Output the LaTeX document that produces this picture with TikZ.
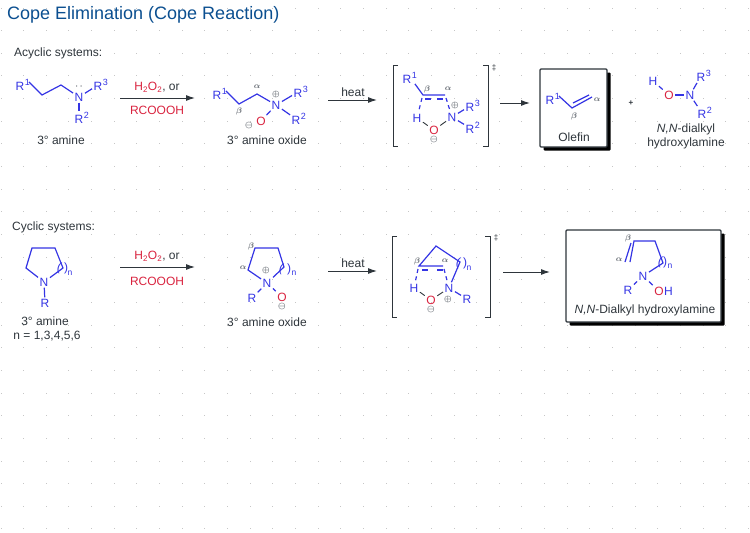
\documentclass[tikz,border=0pt]{standalone}
\usepackage{fontspec}
\setmainfont{Liberation Sans}
\usetikzlibrary{arrows.meta,positioning}
\definecolor{tituloazul}{HTML}{0B4F90}
\definecolor{azulatomo}{HTML}{3434E4}
\definecolor{rojoatomo}{HTML}{D9233F}
\definecolor{grisletra}{HTML}{2E353B}
\definecolor{grismarca}{HTML}{5E646C}
\newcommand{\Rsup}[1]{R\rlap{\kern0.6pt\raisebox{4.4pt}{\fontsize{9}{9}\selectfont #1}}}
\tikzset{
  texto/.style={text=grisletra,font=\fontsize{12}{14}\selectfont,inner sep=0pt},
  reactivo/.style={text=rojoatomo,font=\fontsize{12}{14}\selectfont,inner sep=0pt},
  atomo/.style={text=azulatomo,font=\fontsize{12}{12}\selectfont,inner sep=1.4pt},
  oxigeno/.style={text=rojoatomo,font=\fontsize{12}{12}\selectfont,inner sep=1.4pt},
  indice/.style={text=azulatomo,font=\fontsize{8.5}{8.5}\selectfont,inner sep=0pt},
  griega/.style={text=grismarca,font=\fontsize{8.5}{8.5}\selectfont\boldmath,inner sep=0pt},
  carga/.style={text=grismarca,font=\fontsize{8.5}{8.5}\selectfont\boldmath,inner sep=0pt},
  enlace/.style={azulatomo,line width=1.2pt},
  roto/.style={azulatomo,line width=1.2pt,dash pattern=on 6pt off 6pt},
  rotocorto/.style={azulatomo,line width=1.2pt,dash pattern=on 4pt off 3.5pt},
  puente/.style={grisletra,line width=0.9pt},
  flecha/.style={grisletra,line width=1pt,-{Latex[length=9pt,width=6pt]}},
  corchete/.style={grisletra,line width=0.9pt},
  caja/.style={draw=grisletra,line width=1.1pt,fill=white,rounded corners=1pt},
  sombra/.style={fill=black,rounded corners=1pt},
  punto/.style={fill=gray!45}
}
\begin{document}
\begin{tikzpicture}[x=1pt,y=-1pt]
  \useasboundingbox (0,0) rectangle (750,533);
  %%% PUNTOS
  \foreach \i in {0,...,33}
    \foreach \j in {0,...,23}
      \fill[punto] ({0.5+22.65*\i},{7.5+22.65*\j}) rectangle +(1,1);
  %%% TITULOS
  \node[anchor=west,inner sep=0pt,text=tituloazul,font=\fontsize{18}{20}\selectfont] at (7,15) (titulo) {Cope Elimination (Cope Reaction)};
  \node[texto,anchor=west] at (14,53) (aciclico) {Acyclic systems:};
  \node[texto,anchor=west] at (12,227) (ciclico) {Cyclic systems:};

  %%% AMINA ACICLICA
  \node[atomo] at (20,85) (ar1) {\Rsup{1}};
  \coordinate (ac1) at (42,95);
  \coordinate (ac2) at (61,85);
  \node[atomo] at (79,97) (an) {N};
  \node[atomo] at (98,85) (ar3) {\Rsup{3}};
  \node[atomo] at (79,118) (ar2) {\Rsup{2}};
  \node[griega] at (79,87) (apar) {$\cdot\,\cdot$};
  \draw[enlace] ([xshift=3pt,yshift=3pt]ar1.east) -- (ac1) -- (ac2) -- (an);
  \draw[enlace] (an) -- (ar3);
  \draw[enlace] (an) -- (ar2);
  \node[texto] at (61,140) (aname) {3° amine};

  %%% PRIMERA FLECHA
  \coordinate (f1a) at (120,98);
  \coordinate (f1b) at (195,98);
  \draw[flecha] (f1a) -- (f1b);
  \node[texto] at (157,87) (f1sup) {{\color{rojoatomo}H\textsubscript{2}O\textsubscript{2}}, or};
  \node[reactivo] at (157,110) (f1inf) {RCOOOH};

  %%% OXIDO ACICLICO
  \node[atomo] at (217,94) (br1) {\Rsup{1}};
  \coordinate (bc1) at (239,104);
  \coordinate (bc2) at (257,94);
  \node[atomo] at (276,105) (bn) {N};
  \node[atomo] at (298,92) (br3) {\Rsup{3}};
  \node[atomo] at (296,119) (br2) {\Rsup{2}};
  \node[oxigeno] at (261,121) (bo) {O};
  \draw[enlace] ([xshift=3pt,yshift=3pt]br1.east) -- (bc1) -- (bc2) -- (bn);
  \draw[enlace] (bn) -- (br3);
  \draw[enlace] (bn) -- (br2);
  \draw[enlace] (bn) -- (bo);
  \node[carga] at (276,94) (bmas) {$\oplus$};
  \node[carga] at (249,125) (bmen) {$\ominus$};
  \node[griega] at (257,87) (balfa) {$\alpha$};
  \node[griega] at (239,111) (bbeta) {$\beta$};
  \node[texto] at (267,140) (bname) {3° amine oxide};

  %%% SEGUNDA FLECHA
  \coordinate (f2a) at (328,100);
  \coordinate (f2b) at (377,100);
  \draw[flecha] (f2a) -- (f2b);
  \node[texto] at (353,92) (f2sup) {heat};

  %%% ESTADO DE TRANSICION ACICLICO
  \draw[corchete] (398,65) -- (393,65) -- (393,146) -- (398,146);
  \draw[corchete] (483,65) -- (488,65) -- (488,146) -- (483,146);
  \node[texto,font=\fontsize{8}{8}\selectfont] at (494,68) (cdaga) {‡};
  \node[atomo] at (407,78) (cr1) {\Rsup{1}};
  \coordinate (cb) at (423,95);
  \coordinate (ca) at (445,95);
  \coordinate (cb2) at (425,99);
  \coordinate (ca2) at (445,99);
  \coordinate (cb3) at (422,98);
  \coordinate (ca3) at (446,98);
  \node[atomo] at (417,118) (ch) {H};
  \node[atomo] at (452,117) (cn) {N};
  \node[oxigeno] at (434,130) (co) {O};
  \node[atomo] at (470,106) (cr3) {\Rsup{3}};
  \node[atomo] at (470,128) (cr2) {\Rsup{2}};
  \draw[enlace] ([xshift=2pt,yshift=1pt]cr1.south east) -- (cb) -- (ca);
  \draw[roto] (cb2) -- (ca2);
  \draw[rotocorto] (cb3) -- (ch);
  \draw[rotocorto] (ca3) -- (cn);
  \draw[enlace] (cn) -- (cr3);
  \draw[enlace] (cn) -- (cr2);
  \draw[puente] (ch) -- (co);
  \draw[puente] (co) -- (cn);
  \node[carga] at (434,139.5) (cmen) {$\ominus$};
  \node[carga] at (455,105) (cmas) {$\oplus$};
  \node[griega] at (427,89) (cbeta) {$\beta$};
  \node[griega] at (448,89) (calfa) {$\alpha$};

  %%% TERCERA FLECHA
  \coordinate (f3a) at (500,103);
  \coordinate (f3b) at (530,103);
  \draw[flecha] (f3a) -- (f3b);

  %%% OLEFINA
  \fill[sombra] (543.5,72.5) rectangle (610.5,150.5);
  \draw[caja] (540,69) rectangle (607,147);
  \node[atomo] at (550,99) (dr1) {\Rsup{1}};
  \coordinate (dc1) at (572,108);
  \coordinate (dc2) at (592,97);
  \coordinate (dc3) at (573,103);
  \coordinate (dc4) at (589,95);
  \draw[enlace] ([xshift=3pt,yshift=3pt]dr1.east) -- (dc1) -- (dc2);
  \draw[enlace] (dc3) -- (dc4);
  \node[griega] at (597,100) (dalfa) {$\alpha$};
  \node[griega] at (574,116) (dbeta) {$\beta$};
  \node[texto] at (574,137) (dname) {Olefin};
  \node[texto,font=\bfseries\fontsize{8}{8}\selectfont] at (631,103) (mas) {+};

  %%% HIDROXILAMINA ACICLICA
  \node[atomo] at (653,81) (eh) {H};
  \node[oxigeno] at (669,95) (eo) {O};
  \node[atomo] at (690,95) (en) {N};
  \node[atomo] at (701,76) (er3) {\Rsup{3}};
  \node[atomo] at (702,113) (er2) {\Rsup{2}};
  \draw[enlace] (eh) -- (eo);
  \draw[enlace] (eo) -- (en);
  \draw[enlace] (en) -- (er3);
  \draw[enlace] (en) -- (er2);
  \node[texto] at (686,129) (ename) {\textit{N,N}-dialkyl};
  \node[texto] at (686,143) (ename2) {hydroxylamine};

  %%% AMINA CICLICA
  \node[atomo] at (44,282) (gn) {N};
  \coordinate (g1) at (26,268);
  \coordinate (g2) at (32,248);
  \coordinate (g3) at (55,248);
  \coordinate (g4) at (63,268);
  \node[atomo] at (45,303) (gr) {R};
  \draw[enlace] (gn) -- (g1) -- (g2) -- (g3) -- (g4) -- (gn);
  \draw[enlace] (gn) -- (gr);
  \node[atomo,rotate=-15,inner sep=0pt] at (59,268) (gpa) {(};
  \node[atomo,inner sep=0pt] at (66,268) (gpb) {)};
  \node[indice] at (70,273) (gind) {n};
  \node[texto] at (45,321) (gname) {3° amine};
  \node[texto] at (47,336) (gname2) {n = 1,3,4,5,6};

  %%% CUARTA FLECHA
  \coordinate (f4a) at (120,267);
  \coordinate (f4b) at (195,267);
  \draw[flecha] (f4a) -- (f4b);
  \node[texto] at (157,256) (f4sup) {{\color{rojoatomo}H\textsubscript{2}O\textsubscript{2}}, or};
  \node[reactivo] at (157,281) (f4inf) {RCOOOH};

  %%% OXIDO CICLICO
  \node[atomo] at (267,283) (hn) {N};
  \coordinate (h1) at (248,270);
  \coordinate (h2) at (255,248);
  \coordinate (h3) at (278,248);
  \coordinate (h4) at (284,267);
  \node[atomo] at (252,298) (hr) {R};
  \node[oxigeno] at (282,297) (ho) {O};
  \draw[enlace] (hn) -- (h1) -- (h2) -- (h3) -- (h4) -- (hn);
  \draw[enlace] (hn) -- (hr);
  \draw[enlace] (hn) -- (ho);
  \node[atomo,rotate=-15,inner sep=0pt] at (281,269) (hpa) {(};
  \node[atomo,inner sep=0pt] at (289,269) (hpb) {)};
  \node[indice] at (294,273) (hind) {n};
  \node[carga] at (266,270) (hmas) {$\oplus$};
  \node[carga] at (282,306.5) (hmen) {$\ominus$};
  \node[griega] at (243,268) (halfa) {$\alpha$};
  \node[griega] at (251,246) (hbeta) {$\beta$};
  \node[texto] at (267,322) (hname) {3° amine oxide};

  %%% QUINTA FLECHA
  \coordinate (f5a) at (328,271);
  \coordinate (f5b) at (377,271);
  \draw[flecha] (f5a) -- (f5b);
  \node[texto] at (353,263) (f5sup) {heat};

  %%% ESTADO DE TRANSICION CICLICO
  \draw[corchete] (397,236) -- (392,236) -- (392,317) -- (397,317);
  \draw[corchete] (485,236) -- (490,236) -- (490,317) -- (485,317);
  \node[texto,font=\fontsize{8}{8}\selectfont] at (496,238) (idaga) {‡};
  \coordinate (i1) at (436,246);
  \coordinate (ib) at (419,266);
  \coordinate (ia) at (443,266);
  \coordinate (ib2) at (422,270);
  \coordinate (ia2) at (443,270);
  \coordinate (ib3) at (418,269);
  \coordinate (ia3) at (444,269);
  \coordinate (i2) at (460,262);
  \node[atomo] at (414,288) (ih) {H};
  \node[atomo] at (449,288) (in) {N};
  \node[oxigeno] at (431,300) (io) {O};
  \node[atomo] at (467,299) (ir) {R};
  \draw[enlace] (ia) -- (ib) -- (i1) -- (i2) -- (in);
  \draw[roto,dash pattern=on 6pt off 9pt] (ib2) -- (ia2);
  \draw[rotocorto] (ib3) -- (ih);
  \draw[rotocorto] (ia3) -- (in);
  \draw[enlace] (in) -- (ir);
  \draw[puente] (ih) -- (io);
  \draw[puente] (io) -- (in);
  \node[atomo,rotate=-15,inner sep=0pt] at (458,263) (ipa) {(};
  \node[atomo,inner sep=0pt] at (465,263) (ipb) {)};
  \node[indice] at (469,268) (iind) {n};
  \node[carga] at (431,309.5) (imen) {$\ominus$};
  \node[carga] at (448,299) (imas) {$\oplus$};
  \node[griega] at (417,261) (ibeta) {$\beta$};
  \node[griega] at (445,261) (ialfa) {$\alpha$};

  %%% SEXTA FLECHA
  \coordinate (f6a) at (503,272);
  \coordinate (f6b) at (550,272);
  \draw[flecha] (f6a) -- (f6b);

  %%% HIDROXILAMINA CICLICA
  \fill[sombra] (569.5,233.5) rectangle (724.5,325.5);
  \draw[caja] (566,230) rectangle (721,322);
  \coordinate (j1) at (630,262);
  \coordinate (j2) at (634,241);
  \coordinate (j3) at (655,241);
  \coordinate (j4) at (663,263);
  \coordinate (j5) at (631,243);
  \coordinate (j6) at (625,262);
  \node[atomo] at (643,276) (jn) {N};
  \node[atomo] at (628,290) (jr) {R};
  \node[oxigeno] at (659,291) (jo) {O};
  \node[atomo,right=-2.8pt of jo] (jh) {H};
  \draw[enlace] (j1) -- (j2) -- (j3) -- (j4) -- (jn);
  \draw[enlace] (j5) -- (j6);
  \draw[enlace] (jn) -- (jr);
  \draw[enlace] (jn) -- (jo);
  \node[atomo,rotate=-15,inner sep=0pt] at (660,262) (jpa) {(};
  \node[atomo,inner sep=0pt] at (665,262) (jpb) {)};
  \node[indice] at (670,266) (jind) {n};
  \node[griega] at (628,238) (jbeta) {$\beta$};
  \node[griega] at (619,260) (jalfa) {$\alpha$};
  \node[texto] at (645,310) (jname) {\textit{N,N}-Dialkyl hydroxylamine};
\end{tikzpicture}
\end{document}
